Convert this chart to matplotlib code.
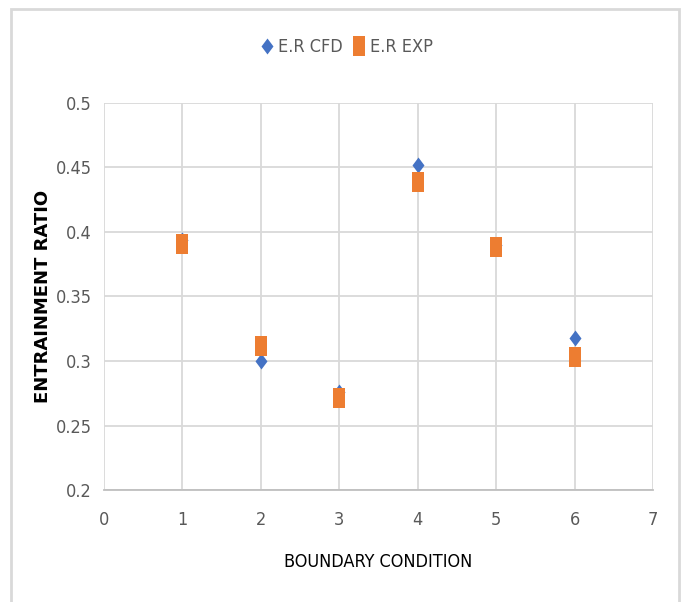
import matplotlib.pyplot as plt
from matplotlib.patches import Rectangle

# data
conditions = [1, 2, 3, 4, 5, 6]
er_cfd = [0.394, 0.300, 0.276, 0.452, 0.390, 0.318]
er_exp = [0.391, 0.312, 0.271, 0.439, 0.388, 0.303]
x_ticks = [0, 1, 2, 3, 4, 5, 6, 7]
y_ticks = [0.2, 0.25, 0.3, 0.35, 0.4, 0.45, 0.5]
y_tick_labels = ["0.2", "0.25", "0.3", "0.35", "0.4", "0.45", "0.5"]

plt.rcParams['font.family'] = ['DejaVu Sans']
plt.rcParams['font.stretch'] = 'condensed'

# markers in the picture are a bit taller than wide
diamond = [(0, 1), (0.75, 0), (0, -1), (-0.75, 0), (0, 1)]
box = [(-0.68, -1), (0.68, -1), (0.68, 1), (-0.68, 1), (-0.68, -1)]

fig = plt.figure(figsize=(6.86, 6.02), dpi=100)
ax = fig.add_axes([0.1516, 0.186, 0.8003, 0.643])

ax.plot(conditions, er_cfd, linestyle="none", marker=diamond, markersize=11.5,
        color="#4472C4", markeredgewidth=0, label="E.R CFD", zorder=3)
ax.plot(conditions, er_exp, linestyle="none", marker=box, markersize=13.7,
        color="#ED7D31", markeredgewidth=0, label="E.R EXP", zorder=4)

ax.set_xlim(0, 7)
ax.set_ylim(0.2, 0.5)
ax.set_xticks(x_ticks)
ax.set_yticks(y_ticks)
ax.set_yticklabels(y_tick_labels)
ax.grid(True, color="#D9D9D9", linewidth=1.3)
ax.set_axisbelow(True)
ax.tick_params(length=0, labelsize=13, colors="#595959")
ax.tick_params(axis="y", pad=9)
ax.tick_params(axis="x", pad=15)

for side in ["top", "right", "left"]:
    ax.spines[side].set_visible(False)
ax.spines["bottom"].set_color("#BFBFBF")
ax.spines["bottom"].set_linewidth(1.3)

ax.set_xlabel("BOUNDARY CONDITION", fontsize=13, color="black")
ax.xaxis.set_label_coords(0.5, -0.163)
ax.set_ylabel("ENTRAINMENT RATIO", fontsize=13, fontweight="bold",
              color="black", fontstretch="normal")
ax.yaxis.set_label_coords(-0.095, 0.5)

fig.legend(loc="center", bbox_to_anchor=(0.506, 0.922), ncol=2, frameon=False,
           fontsize=13, labelcolor="#595959", handlelength=0.6,
           handletextpad=0.3, columnspacing=0.6)

# outer chart border (left, top, right)
fig.patches.append(Rectangle((11 / 686, -0.05), 668 / 686, 1.05 - 9 / 602,
                             transform=fig.transFigure, fill=False,
                             edgecolor="#D9D9D9", linewidth=2))

fig.savefig("out.png", dpi=100)
